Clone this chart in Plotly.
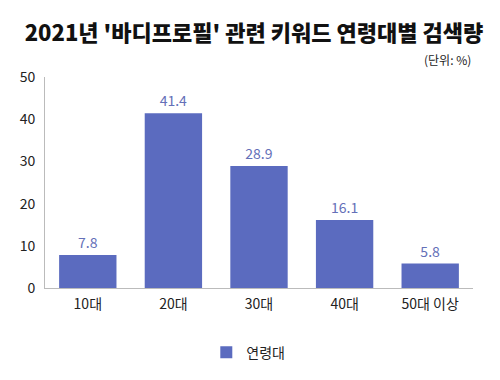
import plotly.graph_objects as go

categories = ["10대", "20대", "30대", "40대", "50대 이상"]
values = [7.8, 41.4, 28.9, 16.1, 5.8]
series_name = "연령대"
title_text = "2021년 '바디프로필' 관련 키워드 연령대별 검색량"
unit_text = "(단위: %)"
y_ticks = [0, 10, 20, 30, 40, 50]

FONT = "Noto Sans CJK KR"
BAR = "#5B6BBF"

fig = go.Figure()
fig.add_trace(go.Bar(
    x=categories, y=values, name=series_name,
    marker=dict(color=BAR, line=dict(width=0)),
    text=[f"{v:.1f}" for v in values], textposition="outside",
    textfont=dict(family=FONT, size=14, color="#6470B8"),
    cliponaxis=False, showlegend=True,
))

fig.update_layout(
    width=492, height=372,
    margin=dict(l=37, r=27, t=69, b=88),
    paper_bgcolor="white", plot_bgcolor="white",
    bargap=0.33,
    title=dict(text=title_text, x=0.5, xanchor="center", y=0.933, yanchor="middle",
               font=dict(family=FONT, size=22, color="#111111", weight=900)),
    font=dict(family=FONT, color="#222222"),
    xaxis=dict(showline=True, linecolor="#BBBBBB", linewidth=1, ticks="", showgrid=False,
               ticklabelstandoff=3,
               tickfont=dict(family=FONT, size=14, color="#222222")),
    yaxis=dict(range=[0, 50], tickvals=y_ticks, showline=True, linecolor="#BBBBBB", linewidth=1,
               showgrid=False, zeroline=False, ticks="", ticklabelstandoff=6,
               tickfont=dict(family=FONT, size=14, color="#222222")),
    legend=dict(orientation="h", x=0.475, xanchor="center", y=-0.23, yanchor="top",
                itemwidth=30,
                font=dict(family=FONT, size=14, color="#222222")),
    annotations=[dict(text=unit_text, xref="paper", yref="paper", x=1.0, y=1.084,
                      xanchor="right", yanchor="middle", showarrow=False,
                      font=dict(family=FONT, size=12, color="#222222"))],
)

fig.write_html("out.html")
